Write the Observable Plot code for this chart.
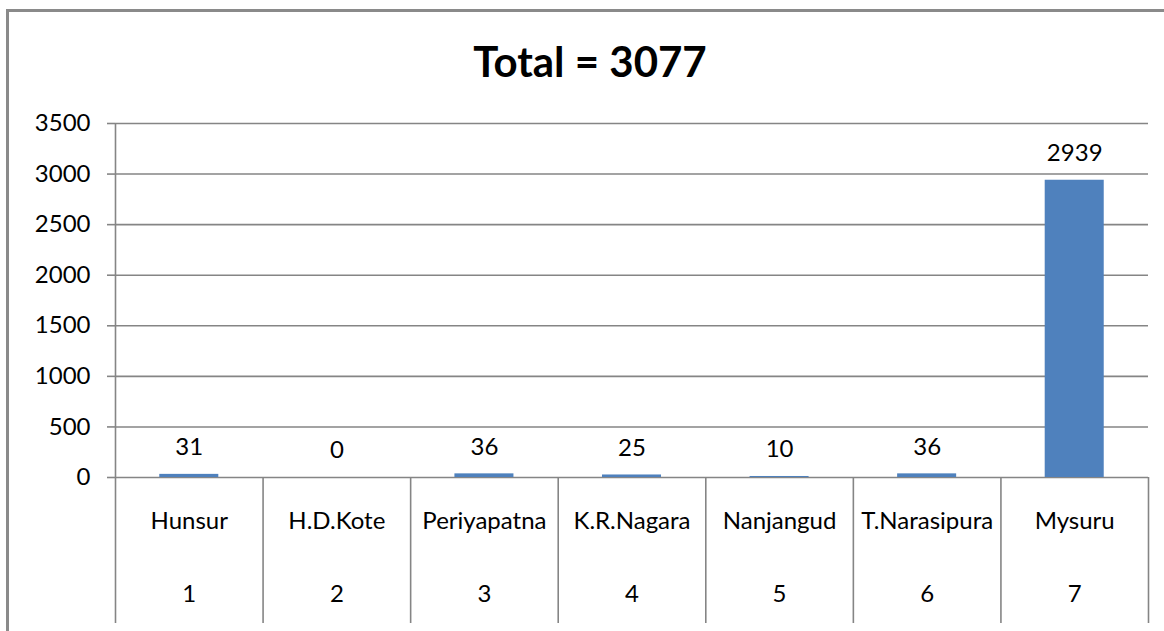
<!DOCTYPE html>
<html>
<head>
<meta charset="utf-8">
<script src="https://cdn.jsdelivr.net/npm/d3@7"></script>
<script src="https://cdn.jsdelivr.net/npm/@observablehq/plot@0.6"></script>
<style>
  html, body { margin: 0; padding: 0; background: #fff; }
  #wrap { position: relative; width: 1164px; height: 631px; overflow: hidden; background: #fff; }
  #frame { position: absolute; left: 6px; top: 9px; width: 1200px; height: 700px;
           border-left: 3px solid #8a8a8a; border-top: 3px solid #8a8a8a; box-sizing: border-box; }
  #title { position: absolute; left: 16px; width: 1148px; top: 40px; line-height: 42px;
           text-align: center; font-family: Lato, sans-serif; font-weight: bold; font-size: 42px; color: #000; }
  #chart { position: absolute; left: 0; top: 0; }
</style>
</head>
<body>
<div id="wrap">
  <div id="frame"></div>
  <div id="chart"></div>
  <div id="title"></div>
</div>
<script>
const titleText = "Total = 3077";
const districts = ["Hunsur", "H.D.Kote", "Periyapatna", "K.R.Nagara", "Nanjangud", "T.Narasipura", "Mysuru"];
const ranks = [1, 2, 3, 4, 5, 6, 7];
const counts = [31, 0, 36, 25, 10, 36, 2939];
const yTicks = [0, 500, 1000, 1500, 2000, 2500, 3000, 3500];
const separators = [0.5, 1.5, 2.5, 3.5, 4.5, 5.5, 6.5, 7.5];

document.getElementById("title").textContent = titleText;

const rows = districts.map((name, i) => ({name, rank: ranks[i], count: counts[i]}));
const gray = "#858585";

const chart = Plot.plot({
  width: 1164,
  height: 631,
  marginLeft: 115,
  marginRight: 16,
  marginTop: 123,
  marginBottom: 154,
  x: {type: "linear", domain: [0.5, 7.5]},
  y: {domain: [0, 3500]},
  style: {fontFamily: "Lato, sans-serif", fontSize: "24px", color: "#000", background: "transparent", overflow: "visible"},
  marks: [
    Plot.gridY(yTicks, {stroke: gray, strokeOpacity: 1, strokeWidth: 1.6}),
    Plot.axisY(yTicks, {tickSize: 8, tickPadding: 17, stroke: gray, strokeWidth: 1.6, tickFormat: d => String(d), label: null, fontSize: 24}),
    Plot.rectY(rows, {x1: d => d.rank - 0.2, x2: d => d.rank + 0.2, y: "count", fill: "#4f81bd"}),
    Plot.ruleX([0.5], {stroke: gray, strokeWidth: 1.6}),
    Plot.axisX(separators, {tickSize: 146, tickFormat: () => "", stroke: gray, strokeWidth: 1.6, label: null}),
    Plot.axisX(ranks, {tickSize: 0, tickPadding: 34, tickFormat: i => districts[i - 1], label: null, fontSize: 24}),
    Plot.axisX(ranks, {tickSize: 0, tickPadding: 107, tickFormat: i => String(i), label: null, fontSize: 24}),
    Plot.text(rows, {x: "rank", y: "count", text: d => String(d.count), dy: -27, fontSize: 24, fill: "#000"})
  ]
});
document.getElementById("chart").appendChild(chart);
</script>
</body>
</html>
